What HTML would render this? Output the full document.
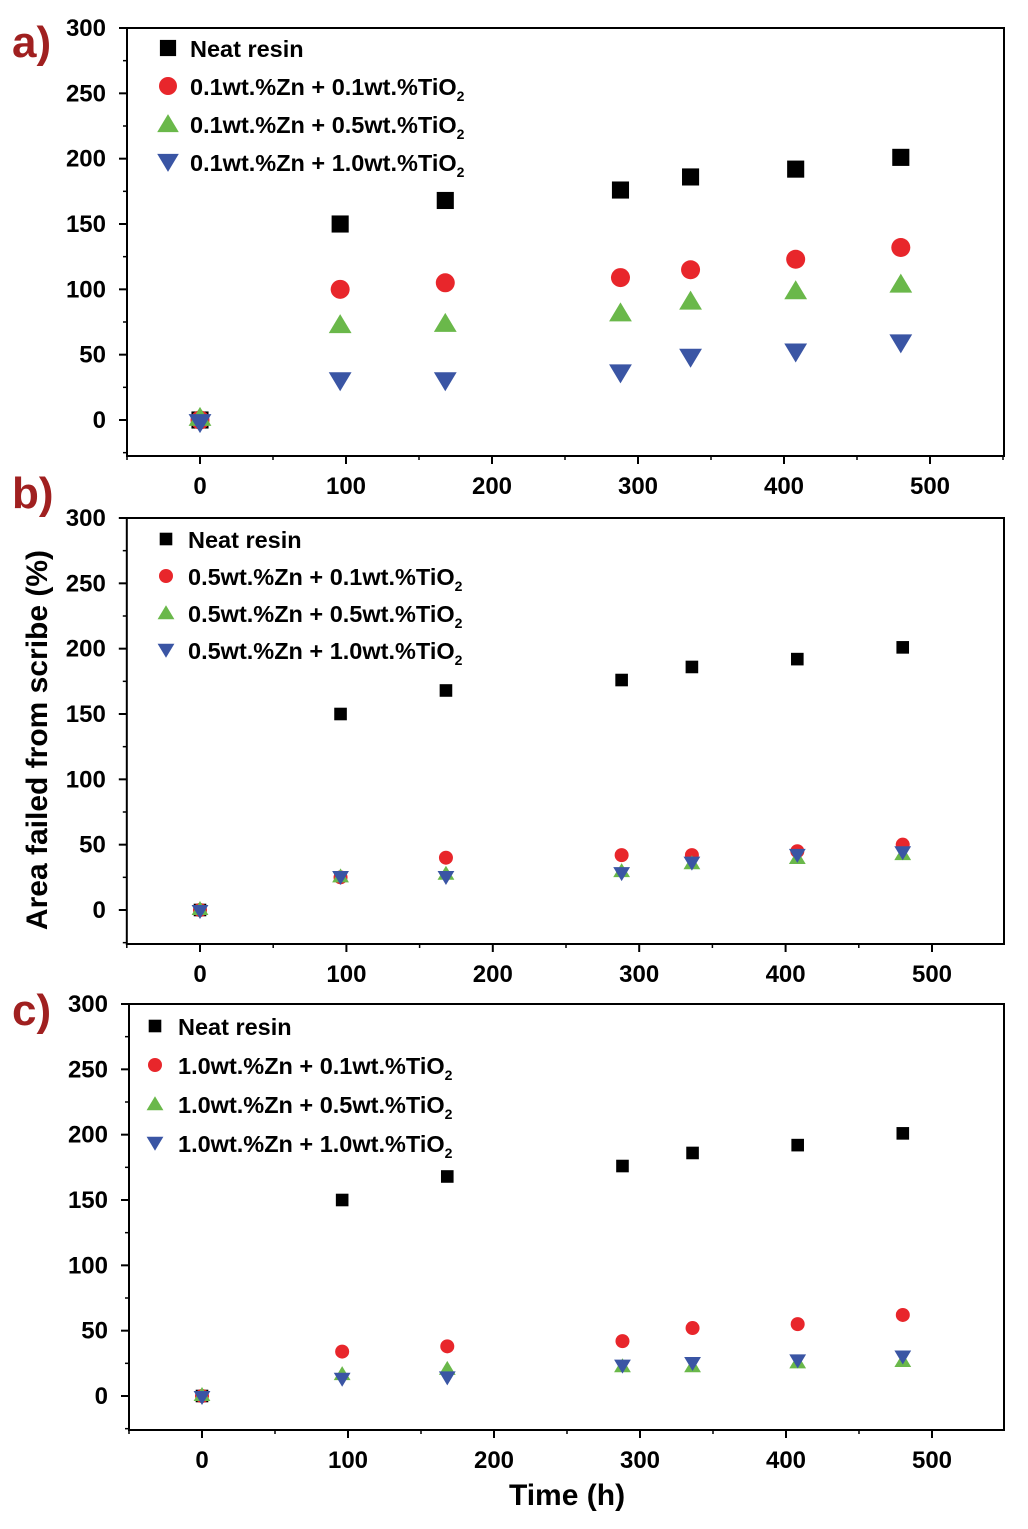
<!DOCTYPE html>
<html><head><meta charset="utf-8"><style>
body{margin:0;background:#fff;}
svg{display:block;font-family:"Liberation Sans",Arial,sans-serif;}
</style></head><body>
<svg id="chart" width="1028" height="1529" viewBox="0 0 1028 1529" xmlns="http://www.w3.org/2000/svg"></svg>
<script>
const times = [0, 96, 168, 288, 336, 408, 480];
const xTicks = [0, 100, 200, 300, 400, 500];
const yTicks = [0, 50, 100, 150, 200, 250, 300];
const neatA = [0, 150, 168, 176, 186, 192, 201];
const redA = [0, 100, 105, 109, 115, 123, 132];
const greenA = [2, 73, 74, 82, 91, 99, 104];
const blueA = [-2, 30, 30, 36, 48, 52, 59];
const neatB = [0, 150, 168, 176, 186, 192, 201];
const redB = [0, 25, 40, 42, 42, 45, 50];
const greenB = [1, 26, 28, 30, 36, 40, 43];
const blueB = [-1, 25, 25, 28, 36, 42, 44];
const neatC = [0, 150, 168, 176, 186, 192, 201];
const redC = [0, 34, 38, 42, 52, 55, 62];
const greenC = [1, 17, 21, 23, 23, 26, 27];
const blueC = [-1, 13, 14, 23, 25, 27, 30];
const labelsA = ["Neat resin","0.1wt.%Zn + 0.1wt.%TiO","0.1wt.%Zn + 0.5wt.%TiO","0.1wt.%Zn + 1.0wt.%TiO"];
const labelsB = ["Neat resin","0.5wt.%Zn + 0.1wt.%TiO","0.5wt.%Zn + 0.5wt.%TiO","0.5wt.%Zn + 1.0wt.%TiO"];
const labelsC = ["Neat resin","1.0wt.%Zn + 0.1wt.%TiO","1.0wt.%Zn + 0.5wt.%TiO","1.0wt.%Zn + 1.0wt.%TiO"];

const NS="http://www.w3.org/2000/svg";
const svg=document.getElementById('chart');
function mk(tag,attrs,parent){const e=document.createElementNS(NS,tag);for(const k in attrs)e.setAttribute(k,attrs[k]);(parent||svg).appendChild(e);return e;}
const colors=["#000","#e8262b","#6ab84a","#3a55a4"];

function marker(g,type,cx,cy,s){
  let e;
  if(type===0){e=mk('rect',{x:cx-s*0.45,y:cy-s*0.45,width:s*0.9,height:s*0.9,fill:colors[0]},g);}
  else if(type===1){e=mk('circle',{cx:cx,cy:cy,r:s*0.5,fill:colors[1]},g);}
  else if(type===2){e=mk('polygon',{points:`${cx},${cy-s*0.55} ${cx-s*0.6},${cy+s*0.45} ${cx+s*0.6},${cy+s*0.45}`,fill:colors[2]},g);}
  else {e=mk('polygon',{points:`${cx},${cy+s*0.55} ${cx-s*0.6},${cy-s*0.45} ${cx+s*0.6},${cy-s*0.45}`,fill:colors[3]},g);}
  return e;
}

function panel(p){
  const g=mk('g',{});
  
  
  const X=v=>p.x0+(v/500)*(p.x500-p.x0);
  const Y=v=>p.y0-(v/300)*(p.y0-p.y300);
  const bx=X(-50), bxr=1004, by=p.top, byb=p.bottom;
  const box=mk('rect',{x:bx,y:by,width:bxr-bx,height:byb-by,fill:'none',stroke:'#000','stroke-width':2},g);
  
  
  yTicks.forEach(t=>{
    const y=Y(t);
    mk('line',{x1:bx-8,x2:bx,y1:y,y2:y,stroke:'#000','stroke-width':2},g);
    const yl=Y(t+25); if(t<300) mk('line',{x1:bx-4,x2:bx,y1:yl,y2:yl,stroke:'#000','stroke-width':1.5},g);
    const tx=mk('text',{x:bx-21,y:y+8,'text-anchor':'end','font-size':24,'font-weight':'bold',fill:'#000'},g);
    tx.textContent=t;
    
    
  });
  mk('line',{x1:bx-4,x2:bx,y1:Y(-25),y2:Y(-25),stroke:'#000','stroke-width':1.5},g);
  xTicks.forEach(t=>{
    const x=X(t);
    mk('line',{x1:x,x2:x,y1:byb,y2:byb+8,stroke:'#000','stroke-width':2},g);
    const xm=X(t+50); if(xm<bxr) mk('line',{x1:xm,x2:xm,y1:byb,y2:byb+4,stroke:'#000','stroke-width':1.5},g);
    const tx=mk('text',{x:x,y:byb+38,'text-anchor':'middle','font-size':24,'font-weight':'bold',fill:'#000'},g);
    tx.textContent=t;
    
    
  });
  mk('line',{x1:X(-50),x2:X(-50),y1:byb,y2:byb+4,stroke:'#000','stroke-width':1.5},g);
  const pl=mk('text',{x:12,y:p.labY,'font-size':44,'font-weight':'bold',fill:'#a02020'},g);
  pl.textContent=p.id+')';
  
  
  p.series.forEach((s,i)=>{
    const sg=mk('g',{},g);
    
    
    s.forEach((v,j)=>{
      const m=marker(sg,i,X(times[j]),Y(v),p.ms);
      
      
    });
  });
  p.labels.forEach((l,i)=>{
    const ly=p.legY+i*p.legDy;
    const lg=mk('g',{},g);
    
    
    marker(lg,i,p.legX,ly,p.lms);
    const t=mk('text',{x:p.legX+p.legTx,y:ly+9,'font-size':23.5,'font-weight':'bold',fill:'#000'},lg);
    t.textContent=l;
    if(i>0){const sub=mk('tspan',{'font-size':14,dy:6},t);sub.textContent='2';}
  });
}
panel({id:'a',labY:57,x0:200,x500:930,y0:420,y300:28,top:28,bottom:456,series:[neatA,redA,greenA,blueA],labels:labelsA,ms:19,lms:18,legX:168,legY:48,legDy:38,legTx:22});
panel({id:'b',labY:508,x0:200,x500:932,y0:910,y300:518,top:518,bottom:944,series:[neatB,redB,greenB,blueB],labels:labelsB,ms:14,lms:14,legX:166,legY:539,legDy:37,legTx:22});
panel({id:'c',labY:1025,x0:202,x500:932,y0:1396,y300:1004,top:1004,bottom:1430,series:[neatC,redC,greenC,blueC],labels:labelsC,ms:14,lms:14,legX:155,legY:1026,legDy:39,legTx:23});
const yt=mk('text',{x:47,y:740,'text-anchor':'middle','font-size':30,'font-weight':'bold',fill:'#000',transform:'rotate(-90 47 740)'});
yt.textContent='Area failed from scribe (%)';


const xt=mk('text',{x:567,y:1505,'text-anchor':'middle','font-size':30,'font-weight':'bold',fill:'#000'});
xt.textContent='Time (h)';


</script>
</body></html>
